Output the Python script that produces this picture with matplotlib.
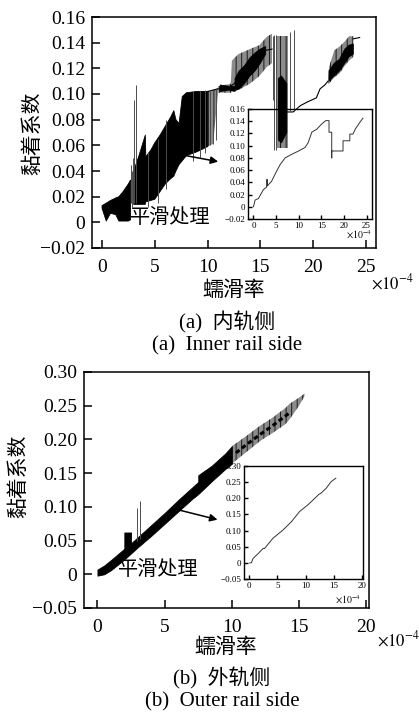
import numpy as np
import matplotlib
matplotlib.use('Agg')
import matplotlib.pyplot as plt

#### CONFIG ######################################
W, H = 419, 715
SERIF = ['Liberation Serif', 'Noto Sans CJK SC']
CJK = ['Noto Sans CJK SC', 'DejaVu Sans']
nan = np.nan

plt.rcParams['font.family'] = SERIF
plt.rcParams['mathtext.fontset'] = 'stix'
plt.rcParams['hatch.linewidth'] = 0.7

#### DATA: (a) inner rail side ###################
# dense black band (raw signal envelope)
INNER_BAND_X = [0.0, 0.4, 0.8, 1.3, 1.6, 2.0, 2.5, 2.7, nan,
                3.0, 3.5, 4.1, 4.15, 4.6, 5.0, 5.5, 6.0, 6.5, 6.8, 7.0, 7.3, 7.6, 8.0, 9.0, 10.0, nan,
                11.2, 12.0, 12.6, nan,
                12.6, 13.0, 13.5, 14.0, 14.5, 15.0, 15.5, nan,
                16.7, 17.0, 17.5, nan,
                21.5, 22.0, 22.5, 23.0, 23.4, 23.8]
INNER_BAND_HI = [0.013, 0.015, 0.017, 0.019, 0.020, 0.024, 0.030, 0.033, nan,
                 0.040, 0.052, 0.068, 0.051, 0.056, 0.062, 0.068, 0.075, 0.082, 0.087, 0.080, 0.077, 0.098, 0.101, 0.102, 0.102, nan,
                 0.107, 0.106, 0.106, nan,
                 0.112, 0.118, 0.122, 0.128, 0.132, 0.135, 0.137, nan,
                 0.112, 0.114, 0.108, nan,
                 0.118, 0.124, 0.127, 0.135, 0.138, 0.139]
INNER_BAND_LO = [0.011, 0.001, 0.007, 0.006, 0.001, 0.001, 0.001, 0.002, nan,
                 0.014, 0.014, 0.014, 0.016, 0.017, 0.018, 0.024, 0.030, 0.034, 0.036, 0.040, 0.045, 0.048, 0.052, 0.055, 0.059, nan,
                 0.102, 0.103, 0.102, nan,
                 0.103, 0.104, 0.108, 0.114, 0.118, 0.124, 0.131, nan,
                 0.064, 0.062, 0.070, nan,
                 0.110, 0.114, 0.118, 0.124, 0.129, 0.131]

# striped grey envelope
INNER_GREY_X = [10.0, 10.5, 11.0, nan,
                11.0, 12.2, 12.3, 12.9, 14.0, 14.9, 15.6, 16.1, nan,
                16.6, 17.6, nan,
                21.4, 21.5, 22.0, 22.5, 23.0, 23.4, 23.8]
INNER_GREY_HI = [0.102, 0.103, 0.105, nan,
                 0.106, 0.108, 0.126, 0.131, 0.135, 0.138, 0.1445, 0.147, nan,
                 0.145, 0.145, nan,
                 0.110, 0.121, 0.134, 0.137, 0.141, 0.145, 0.145]
INNER_GREY_LO = [0.059, 0.061, 0.101, nan,
                 0.101, 0.101, 0.102, 0.103, 0.108, 0.114, 0.121, 0.124, nan,
                 0.058, 0.058, nan,
                 0.108, 0.108, 0.113, 0.116, 0.122, 0.126, 0.129]

# thin trace
INNER_LINE_X = [10.0, 10.5, 11.0, 11.5, 12.0, 12.5, 13.0, 14.0, 15.0, 15.5, 16.1, nan,
                17.5, 18.1, 18.8, 19.5, 20.3, 20.65, 21.1, 21.4, nan, 23.8, 24.4]
INNER_LINE_Y = [0.102, 0.103, 0.104, 0.104, 0.105, 0.108, 0.112, 0.120, 0.128, 0.134, 0.135, nan,
                0.086, 0.086, 0.091, 0.094, 0.097, 0.104, 0.107, 0.110, nan, 0.143, 0.144]

# single spikes
INNER_SPIKE_X = [2.75, 2.85, 2.95, 3.06, 3.19, 4.4, 5.3, 6.1, 8.6, 9.3, 9.8,
                 10.2, 10.5, 10.8, 16.15, 16.3, 16.45, 17.8, 18.15]
INNER_SPIKE_LO = [0.015, 0.012, 0.015, 0.015, 0.015, 0.012, 0.015, 0.026, 0.048, 0.050, 0.054,
                  0.060, 0.061, 0.064, 0.095, 0.056, 0.056, 0.087, 0.087]
INNER_SPIKE_HI = [0.045, 0.040, 0.050, 0.095, 0.107, 0.055, 0.065, 0.080, 0.102, 0.102, 0.103,
                  0.103, 0.103, 0.104, 0.145, 0.146, 0.146, 0.148, 0.150]

# smoothed curve (inset)
INNER_SMOOTH_X = [0.0, 0.37, 1.1, 2.2, 2.9, 3.0, 3.1, 3.3, 4.0, 5.1, 5.9, 7.0, 8.5, 9.9,
                  11.4, 12.1, 12.9, 14.0, 15.1, 16.0, 16.5, 16.7, 16.7, 17.3, 17.3, 17.3,
                  19.8, 19.8, 21.3, 21.3, 22.0, 22.5, 23.5, 24.2]
INNER_SMOOTH_Y = [0.0, 0.011, 0.0135, 0.028, 0.032, 0.045, 0.034, 0.036, 0.0416, 0.058, 0.069, 0.080, 0.086, 0.091,
                  0.097, 0.105, 0.122, 0.127, 0.1356, 0.141, 0.141, 0.141, 0.122, 0.122, 0.080, 0.0913,
                  0.0913, 0.108, 0.108, 0.119, 0.119, 0.127, 0.138, 0.145]

#### DATA: (b) outer rail side ###################
OUTER_BAND_X = [0.0, 0.5, 1.0, 2.0, 2.0, 2.5, 2.5, 3.0, 4.0, 5.0, 6.0, 7.0, 7.5, 7.5, 8.5, 9.0, 9.5, 10.0]
OUTER_BAND_HI = [0.007, 0.013, 0.021, 0.038, 0.062, 0.062, 0.046, 0.055, 0.073, 0.091, 0.110, 0.128, 0.137, 0.147, 0.161, 0.170, 0.179, 0.190]
OUTER_BAND_LO = [-0.002, 0.000, 0.006, 0.022, 0.022, 0.031, 0.031, 0.040, 0.057, 0.075, 0.093, 0.111, 0.119, 0.119, 0.138, 0.147, 0.156, 0.164]

OUTER_GREY_X = [10.0, 11.0, 12.0, 12.5, 13.0, 14.0, 14.3, 15.0, 15.4]
OUTER_GREY_HI = [0.190, 0.204, 0.219, 0.2255, 0.232, 0.247, 0.253, 0.262, 0.268]
OUTER_GREY_LO = [0.164, 0.180, 0.196, 0.203, 0.209, 0.223, 0.230, 0.250, 0.264]

OUTER_CORE_X = [10.3, 11.0, 12.0, 13.0, 14.0, 14.4]
OUTER_CORE_Y = [0.180, 0.191, 0.206, 0.220, 0.235, 0.241]

OUTER_SPIKE_X = [2.96, 3.13]
OUTER_SPIKE_LO = [0.049, 0.052]
OUTER_SPIKE_HI = [0.0985, 0.1085]

OUTER_SMOOTH_X = [0.12, 0.4, 0.7, 1.5, 2.18, 2.5, 2.7, 4.2, 6.0, 7.5, 8.9, 10.4, 11.9, 12.3, 12.7, 13.6, 14.5, 15.3]
OUTER_SMOOTH_Y = [0.0, 0.0, 0.0137, 0.027, 0.0395, 0.045, 0.044, 0.076, 0.102, 0.128, 0.159, 0.180, 0.205, 0.212, 0.216, 0.231, 0.252, 0.262]

#### TICKS #######################################
A_YTICKS = [-0.02, 0.0, 0.02, 0.04, 0.06, 0.08, 0.10, 0.12, 0.14, 0.16]
A_YLABELS = ['\u22120.02', '0', '0.02', '0.04', '0.06', '0.08', '0.10', '0.12', '0.14', '0.16']
A_XTICKS = [0, 5, 10, 15, 20, 25]
B_YTICKS = [-0.05, 0.0, 0.05, 0.10, 0.15, 0.20, 0.25, 0.30]
B_YLABELS = ['\u22120.05', '0', '0.05', '0.10', '0.15', '0.20', '0.25', '0.30']
B_XTICKS = [0, 5, 10, 15, 20]


##### FUNCTIONS ##################################

def rect(left, top, right, bottom):
    # pixel box -> figure fraction
    return [left / W, 1 - bottom / H, (right - left) / W, (bottom - top) / H]


def style(ax, xticks, yticks, ylabels, size, length, xpad, ypad, lw):
    ax.set_xticks(xticks)
    ax.set_xticklabels([str(t) for t in xticks])
    ax.set_yticks(yticks)
    ax.set_yticklabels(ylabels)
    ax.tick_params(direction='in', length=length, width=lw, labelsize=size)
    ax.tick_params(axis='x', pad=xpad)
    ax.tick_params(axis='y', pad=ypad)
    for s in ax.spines.values():
        s.set_linewidth(lw)


def draw_raw(ax, bx, blo, bhi, gx, glo, ghi):
    ax.fill_between(gx, glo, ghi, facecolor='0.55', edgecolor='0.1',
                    hatch='|||', linewidth=0)
    ax.fill_between(bx, blo, bhi, facecolor='k', edgecolor='k', linewidth=0.6)


def ftext(px, py, s, **kw):
    fig.text(px / W, 1 - py / H, s, **kw)


#### BEGIN SCRIPT ################################

fig = plt.figure(figsize=(W / 100, H / 100), dpi=100)

# ---- (a) inner rail side
ax1 = fig.add_axes(rect(92, 17, 376, 248))
draw_raw(ax1, INNER_BAND_X, INNER_BAND_LO, INNER_BAND_HI,
         INNER_GREY_X, INNER_GREY_LO, INNER_GREY_HI)
ax1.plot(INNER_LINE_X, INNER_LINE_Y, color='k', lw=0.8)
ax1.vlines(INNER_SPIKE_X, INNER_SPIKE_LO, INNER_SPIKE_HI, color='0.3', lw=0.7)
ax1.set_xlim(-0.95, 25.95)
ax1.set_ylim(-0.02, 0.16)
style(ax1, A_XTICKS, A_YTICKS, A_YLABELS, 14, 6, 8, 5, 1.1)
ax1.text(2.6, 0.004, '平滑处理', family=CJK, fontsize=14.5, va='center')
ax1.annotate('', xy=(11.0, 0.0473), xytext=(7.07, 0.0533),
             arrowprops=dict(arrowstyle='-|>', color='k', lw=1.1,
                             mutation_scale=11, shrinkA=0, shrinkB=0))

ins1 = fig.add_axes(rect(248, 109, 372, 219))
ins1.set_facecolor('none')
ins1.plot(INNER_SMOOTH_X, INNER_SMOOTH_Y, color='0.2', lw=0.7)
ins1.set_xlim(-1.2, 26.2)
ins1.set_ylim(-0.02, 0.16)
style(ins1, A_XTICKS, A_YTICKS, A_YLABELS, 6.5, 3, 2, 2, 1.0)

# ---- (b) outer rail side
ax2 = fig.add_axes(rect(84, 372, 369, 608))
draw_raw(ax2, OUTER_BAND_X, OUTER_BAND_LO, OUTER_BAND_HI,
         OUTER_GREY_X, OUTER_GREY_LO, OUTER_GREY_HI)
ax2.plot(OUTER_CORE_X, OUTER_CORE_Y, color='k', lw=2.2, ls=(0, (1.5, 1)))
ax2.vlines(OUTER_SPIKE_X, OUTER_SPIKE_LO, OUTER_SPIKE_HI, color='0.3', lw=0.7)
ax2.set_xlim(-1.0, 20.2)
ax2.set_ylim(-0.05, 0.30)
style(ax2, B_XTICKS, B_YTICKS, B_YLABELS, 14, 6, 8, 5, 1.1)
ax2.text(1.5, 0.007, '平滑处理', family=CJK, fontsize=14.5, va='center')
ax2.annotate('', xy=(8.93, 0.081), xytext=(5.97, 0.0958),
             arrowprops=dict(arrowstyle='-|>', color='k', lw=1.1,
                             mutation_scale=11, shrinkA=0, shrinkB=0))

ins2 = fig.add_axes(rect(244, 466, 363, 579))
ins2.set_facecolor('none')
ins2.plot(OUTER_SMOOTH_X, OUTER_SMOOTH_Y, color='0.2', lw=0.7)
ins2.set_xlim(-0.9, 20.1)
ins2.set_ylim(-0.05, 0.30)
style(ins2, B_XTICKS, B_YTICKS, B_YLABELS, 6.5, 3, 2, 2, 1.0)

# ---- labels and captions
ftext(32, 133, '黏着系数', family=CJK, fontsize=15, rotation=90, ha='center', va='center')
ftext(18, 476, '黏着系数', family=CJK, fontsize=15, rotation=90, ha='center', va='center')
ftext(234, 290, '蠕滑率', family=CJK, fontsize=15, ha='center', va='center')
ftext(226, 647, '蠕滑率', family=CJK, fontsize=15, ha='center', va='center')
ftext(371, 273, r'$\times10^{-4}$', fontsize=12, ha='left', va='top')
ftext(377, 630, r'$\times10^{-4}$', fontsize=12, ha='left', va='top')
ftext(372, 235, r'$\times10^{-4}$', fontsize=7, ha='right', va='center')
ftext(361, 600, r'$\times10^{-4}$', fontsize=7, ha='right', va='center')

ftext(227, 322, '(a)  内轨侧', family=SERIF, fontsize=15, ha='center', va='center')
ftext(227, 346, '(a)  Inner rail side', family=SERIF, fontsize=15, ha='center', va='center')
ftext(222, 678, '(b)  外轨侧', family=SERIF, fontsize=15, ha='center', va='center')
ftext(222, 702, '(b)  Outer rail side', family=SERIF, fontsize=15, ha='center', va='center')

fig.savefig('out.png', dpi=100, facecolor='white')
